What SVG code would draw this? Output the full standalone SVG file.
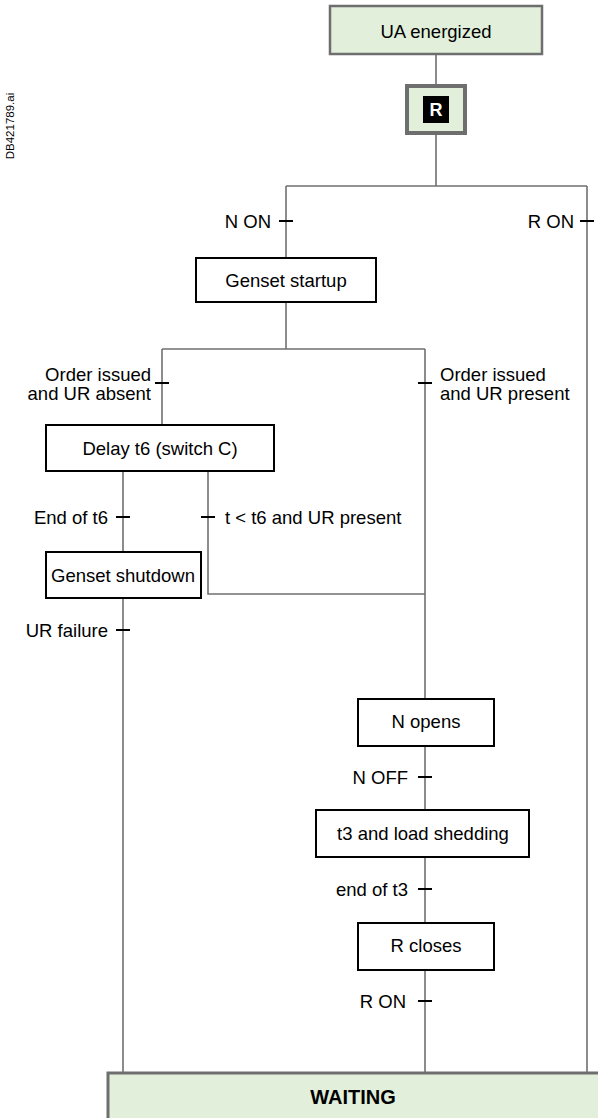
<svg xmlns="http://www.w3.org/2000/svg" width="598" height="1118" viewBox="0 0 598 1118">
<style>
text{font-family:"Liberation Sans",Arial,sans-serif;font-size:18.5px;fill:#000}
.c{text-anchor:middle}
.e{text-anchor:end}
.box{fill:#fff;stroke:#000;stroke-width:2}
.gbox{fill:#e2efda;stroke:#6e6e6e;stroke-width:2.5}
.ln{fill:none;stroke:#707070;stroke-width:1.6}
.tk{stroke:#000;stroke-width:2}
</style>
<text transform="translate(14,126) rotate(-90)" class="c" style="font-size:11.5px">DB421789.ai</text>
<g id="connectors">
<path class="ln" d="M436 54V85M436 133V186M286 186H587M286 186V258M587 186V1072M286 302V349M162 349H425M162 349V427M425 349V1072M123 470V555M208 470V594H425M123 598V1072"/>
<path class="tk" d="M279 221H293M580 221H594M155 383H169M418 383H432M116 517H130M201 517H215M116 630H130M418 777H432M418 889H432M418 1001H432"/>
<text class="e" x="271" y="228">N ON</text>
<text class="e" x="574" y="228">R ON</text>
<text class="e" x="151" y="381">Order issued</text>
<text class="e" x="151" y="400">and UR absent</text>
<text x="440" y="381">Order issued</text>
<text x="440" y="400">and UR present</text>
<text class="e" x="108" y="524">End of t6</text>
<text x="225" y="524">t &lt; t6 and UR present</text>
<text class="e" x="108" y="637">UR failure</text>
<text class="e" x="408" y="784">N OFF</text>
<text class="e" x="408" y="896">end of t3</text>
<text class="e" x="406" y="1008">R ON</text>
</g>
<g id="ua">
<rect class="gbox" x="330" y="6" width="212" height="48"/>
<text class="c" x="436" y="38">UA energized</text>
</g>
<g id="r">
<rect x="407" y="86" width="58" height="47" fill="#e2efda" stroke="#6e6e6e" stroke-width="4"/>
<rect x="423" y="96" width="26" height="27" fill="#000"/>
<text class="c" x="436" y="116" style="fill:#fff;font-weight:bold;font-size:18px">R</text>
</g>
<g id="genset-startup">
<rect class="box" x="196" y="258" width="180" height="44"/>
<text class="c" x="286" y="287">Genset startup</text>
</g>
<g id="delay">
<rect class="box" x="46" y="425" width="228" height="46"/>
<text class="c" x="160" y="455">Delay t6 (switch C)</text>
</g>
<g id="genset-shutdown">
<rect class="box" x="46" y="552" width="155" height="46"/>
<text class="c" x="123" y="582">Genset shutdown</text>
</g>
<g id="n-opens">
<rect class="box" x="358" y="699" width="136" height="47"/>
<text class="c" x="426" y="728">N opens</text>
</g>
<g id="t3">
<rect class="box" x="316" y="810" width="213" height="47"/>
<text class="c" x="423" y="840">t3 and load shedding</text>
</g>
<g id="r-closes">
<rect class="box" x="358" y="923" width="136" height="47"/>
<text class="c" x="426" y="952">R closes</text>
</g>
<g id="waiting">
<rect x="108" y="1073" width="495" height="50" fill="#e2efda" stroke="#6e6e6e" stroke-width="3"/>
<text class="c" x="353" y="1104" style="font-weight:bold;font-size:20px">WAITING</text>
</g>
</svg>
